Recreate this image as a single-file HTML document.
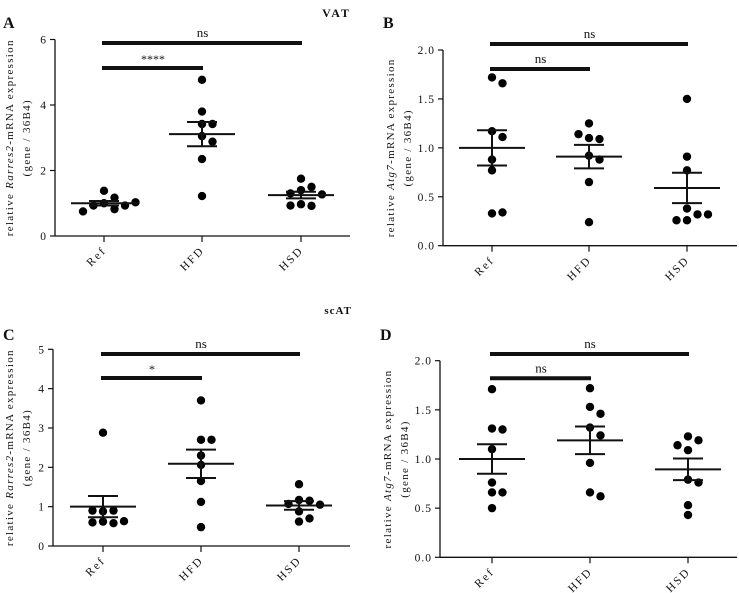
<!DOCTYPE html>
<html><head><meta charset="utf-8"><style>
html,body{margin:0;padding:0;background:#fff}
svg{display:block}
text{font-family:"Liberation Serif",serif;fill:#111}
</style></head><body>
<svg id="fig" width="739" height="593" viewBox="0 0 739 593" xmlns="http://www.w3.org/2000/svg">
<text x="351" y="17" text-anchor="end" font-size="12" font-weight="bold" letter-spacing="2">VAT</text>
<text x="352" y="314" text-anchor="end" font-size="11" font-weight="bold" letter-spacing="1">scAT</text>
</svg>
<script>
const categories = ["Ref","HFD","HSD"];
const aRef=[1.38,1.17,1.0,0.93,0.93,0.82,0.75,1.03];
const aHFD=[4.77,3.8,3.42,3.42,3.05,2.88,2.35,1.22];
const aHSD=[1.75,1.5,1.4,1.3,1.27,0.97,0.92,0.93];
const aMean=[1.0,3.11,1.25];
const aSem=[0.07,0.37,0.1];
const bRef=[1.72,1.66,1.17,1.11,0.88,0.77,0.33,0.34];
const bHFD=[1.25,1.10,1.09,1.14,0.92,0.88,0.65,0.24];
const bHSD=[1.5,0.91,0.77,0.38,0.32,0.26,0.26,0.32];
const bMean=[1.0,0.91,0.59];
const bSem=[0.18,0.12,0.155];
const cRef=[2.88,0.88,0.9,0.9,0.62,0.58,0.6,0.63];
const cHFD=[3.7,2.7,2.7,2.3,2.06,1.65,1.12,0.48];
const cHSD=[1.57,1.17,1.15,1.07,1.05,0.88,0.62,0.7];
const cMean=[1.0,2.09,1.03];
const cSem=[0.27,0.36,0.11];
const dRef=[1.71,1.31,1.30,1.10,0.76,0.66,0.66,0.5];
const dHFD=[1.72,1.53,1.46,1.32,1.24,0.96,0.66,0.62];
const dHSD=[1.23,1.19,1.14,1.09,0.79,0.76,0.53,0.43];
const dMean=[1.0,1.19,0.895];
const dSem=[0.15,0.14,0.11];
const ticksA=["0","2","4","6"], ticksB=["0.0","0.5","1.0","1.5","2.0"], ticksC=["0","1","2","3","4","5"];
const NS="http://www.w3.org/2000/svg";
const svg=document.getElementById('fig');
function mk(tag,attrs,parent){const e=document.createElementNS(NS,tag);for(const k in attrs)e.setAttribute(k,attrs[k]);(parent||svg).appendChild(e);return e;}
function panel(p){
  const g=mk('g',{});
  
  
  const y=v=>p.yb-(p.yb-p.yt)*v/p.ymax;
  const xs=[p.x1,p.x2,p.x3];
  const L=mk('text',{x:p.lx,y:p.ly,'font-size':16,'font-weight':'bold'},g);L.textContent=p.id;
  
  
  const ya=mk('line',{x1:p.ax,y1:p.yt,x2:p.ax,y2:p.yb,stroke:'#111','stroke-width':1.3},g);
  
  
  const xa=mk('line',{x1:p.ax,y1:p.yb,x2:p.xr,y2:p.yb,stroke:'#111','stroke-width':1.3},g);
  
  
  p.ticks.forEach((t,i)=>{const v=i*p.ymax/(p.ticks.length-1);const yy=y(v);
    mk('line',{x1:p.ax-5,y1:yy,x2:p.ax,y2:yy,stroke:'#111','stroke-width':1.2},g);
    const tt=mk('text',{x:p.ax-8,y:yy+4,'text-anchor':'end','font-size':11.5,'letter-spacing':1},g);tt.textContent=t;
    
    });
  categories.forEach((c,i)=>{const x=xs[i];
    mk('line',{x1:x,y1:p.yb,x2:x,y2:p.yb+6,stroke:'#111','stroke-width':1.2},g);
    const tt=mk('text',{x:x+3,y:p.yb+15,'text-anchor':'end','font-size':11.5,'letter-spacing':2,transform:`rotate(-45 ${x+3} ${p.yb+15})`},g);tt.textContent=c;
    
    });
  const cy=(p.yt+p.yb)/2;
  const t1=mk('text',{x:p.tx,y:cy,'text-anchor':'middle','font-size':11,'letter-spacing':1.3,transform:`rotate(-90 ${p.tx} ${cy})`},g);
  t1.innerHTML='relative <tspan font-style="italic">'+p.gene+'</tspan>-mRNA expression';
  
  
  const t2=mk('text',{x:p.tx+17,y:cy,'text-anchor':'middle','font-size':11,'letter-spacing':1.3,transform:`rotate(-90 ${p.tx+17} ${cy})`},g);
  t2.textContent='(gene / 36B4)';
  
  
  [[p.b1,xs[2],'ns'],[p.b2,xs[1],p.sig]].forEach(([by,xe,lab])=>{
    const l=mk('line',{x1:xs[0]-2,y1:by,x2:xe+1,y2:by,stroke:'#111','stroke-width':4},g);
    
    
    const tt=mk('text',{x:(xs[0]+xe)/2,y:lab==='ns'?by-6:by-5,'text-anchor':'middle','font-size':lab==='ns'?13:12,fill:lab==='ns'?'#111':'#555'},g);tt.textContent=lab;
    
    });
  p.groups.forEach((vals,gi)=>{const placed=[];const r=4.2;
    vals.forEach(v=>{const yy=y(v);let off=0;
      for(let k=0;k<40;k++){const o=(k%2?1:-1)*Math.ceil(k/2)*10.5;
        if(placed.every(q=>Math.hypot(q[0]-o,q[1]-yy)>=2*r+1)){off=o;break;}}
      placed.push([off,yy]);
      const c=mk('circle',{cx:xs[gi]+off,cy:yy,r:r,fill:'#000'},g);
      
      });
    const m=p.mean[gi],s=p.sem[gi],x=xs[gi];
    const ml=mk('line',{x1:x-33,y1:y(m),x2:x+33,y2:y(m),stroke:'#111','stroke-width':2},g);
    
    
    const e=mk('path',{d:`M${x-15},${y(m+s)}H${x+15}M${x-15},${y(m-s)}H${x+15}M${x},${y(m+s)}V${y(m-s)}`,stroke:'#111','stroke-width':2,fill:'none'},g);
    
    
  });
}
panel({id:'A',lx:3,ly:28,ax:55,xr:350,yt:39.5,yb:236,ymax:6,ticks:ticksA,x1:104,x2:202,x3:301,b1:43,b2:68,sig:'****',tx:13,gene:'Rarres2',groups:[aRef,aHFD,aHSD],mean:aMean,sem:aSem});
panel({id:'B',lx:383,ly:28,ax:443,xr:737,yt:50,yb:245.7,ymax:2,ticks:ticksB,x1:492,x2:589,x3:687,b1:44,b2:69,sig:'ns',tx:394,gene:'Atg7',groups:[bRef,bHFD,bHSD],mean:bMean,sem:bSem});
panel({id:'C',lx:3,ly:340,ax:53,xr:350,yt:349.3,yb:546,ymax:5,ticks:ticksC,x1:103,x2:201,x3:299,b1:354,b2:378,sig:'*',tx:13,gene:'Rarres2',groups:[cRef,cHFD,cHSD],mean:cMean,sem:cSem});
panel({id:'D',lx:380,ly:340,ax:440,xr:737,yt:360.7,yb:557.3,ymax:2,ticks:ticksB,x1:492,x2:590,x3:688,b1:354,b2:378.3,sig:'ns',tx:391,gene:'Atg7',groups:[dRef,dHFD,dHSD],mean:dMean,sem:dSem});
</script>
</body></html>
